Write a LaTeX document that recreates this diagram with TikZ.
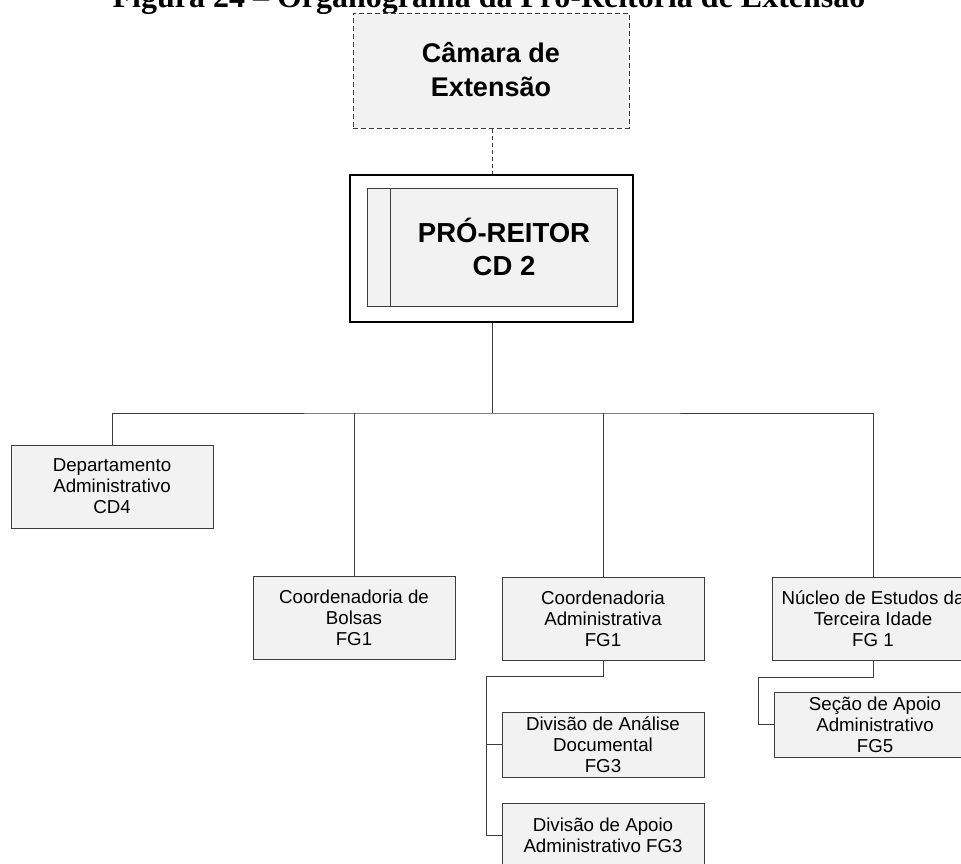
\documentclass[tikz,border=0pt]{standalone}
\usepackage{fontspec}
\setmainfont{Liberation Serif}
\setsansfont{Liberation Sans}
\definecolor{boxfill}{HTML}{F2F2F2}
\definecolor{linegray}{HTML}{3C3C3C}
\begin{document}
\begin{tikzpicture}[x=1pt,y=-1pt,
  box/.style={draw=linegray, fill=boxfill, line width=1pt, rectangle, align=center,
    inner sep=0pt, minimum width=202pt, font=\sffamily\fontsize{18.7}{21}\selectfont},
  tall/.style={box, minimum height=83pt},
  short/.style={box, minimum height=65pt},
  conn/.style={draw=linegray, line width=1pt},
  bigtext/.style={align=center, inner sep=0pt, font=\sffamily\bfseries\fontsize{27.5}{33}\selectfont},
]
\useasboundingbox (0,0) rectangle (961,863);
\clip (0,0) rectangle (961,863);

% heading
\node[anchor=base, inner sep=0pt, font=\rmfamily\bfseries\fontsize{32}{36}\selectfont] (title) at (489,7)
  {Figura 24 – Organograma da Pró-Reitoria de Extensão};

% advisory chamber
\node[draw=linegray, fill=boxfill, line width=1pt, dash pattern=on 5pt off 3pt,
  minimum width=276pt, minimum height=115pt, inner sep=0pt] (camara) at (491,70.5) {};
\node[bigtext, font=\sffamily\bfseries\fontsize{27}{34}\selectfont] (camaratext) at (491,70) {Câmara de\\Extensão};

% head of the office
\node[draw=black, line width=2.8pt, minimum width=283pt, minimum height=147pt, inner sep=0pt] (outer) at (491.5,248.5) {};
\node[draw=linegray, fill=boxfill, line width=1pt, minimum width=250pt, minimum height=118pt, inner sep=0pt] (inner) at (492,247) {};
\draw[conn] ([xshift=24pt]inner.north west) -- ([xshift=24pt]inner.south west);
\node[bigtext] (protext) at (504,247) {PRÓ-REITOR\\CD 2};

\draw[conn, dash pattern=on 4pt off 3pt] (camara.south -| 492,0) -- (outer.north -| 492,0);

% units
\node[tall] (dept)   at (112,486.5) {Departamento\\Administrativo\\CD4};
\node[tall] (bolsas) at (354,617.5) {Coordenadoria de\\Bolsas\\FG1};
\node[tall] (cadm)   at (603,618.5) {Coordenadoria\\Administrativa\\FG1};
\node[tall] (nuc)    at (873,618.5) {Núcleo de Estudos da\\Terceira Idade\\FG 1};

\node[short] (analise) at (603,744.5) {Divisão de Análise\\Documental\\FG3};
\node[short] (apoio)   at (603,835.5) {Divisão de Apoio\\Administrativo FG3};
\node[short] (secao)   at (875,724.5) {Seção de Apoio\\Administrativo\\FG5};

% connectors
\coordinate (bus) at (492,413);
\draw[conn] (outer.south -| bus) -- (bus);
\draw[conn] (dept.north) |- (bus) -| (nuc.north);
\draw[conn] (bolsas.north) -- (bolsas.north |- bus);
\draw[conn] (cadm.north) -- (cadm.north |- bus);

\coordinate (cadmjoint) at (486,676);
\draw[conn] (cadm.south) |- (cadmjoint) |- (apoio.west);
\draw[conn] (analise.west) -- (analise.west -| cadmjoint);

\coordinate (nucjoint) at (758,677);
\draw[conn] (nuc.south) |- (nucjoint) |- (secao.west);
\end{tikzpicture}
\end{document}
